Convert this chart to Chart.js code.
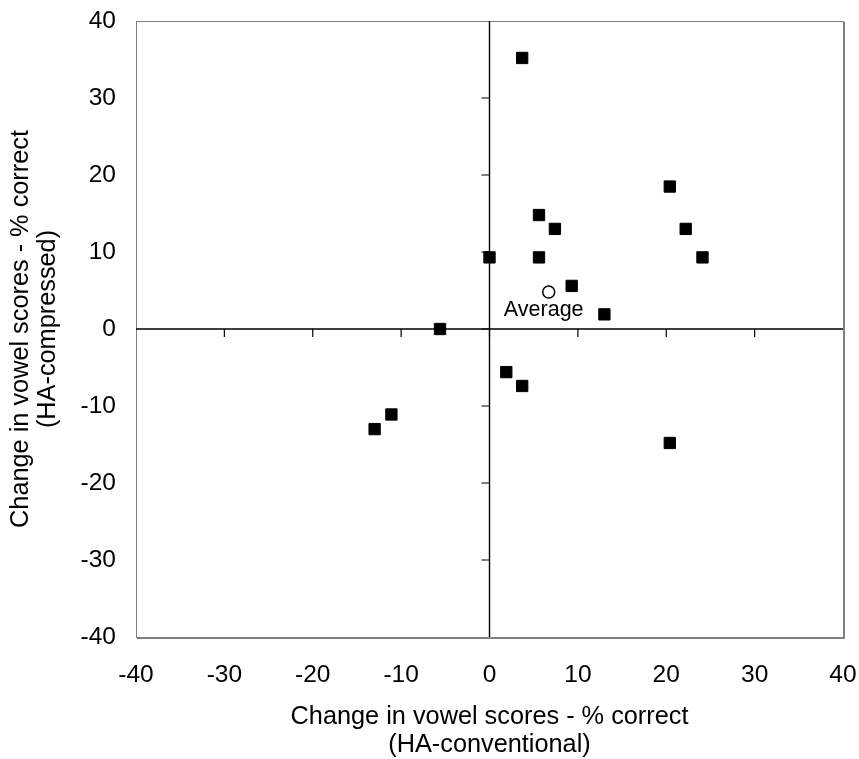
<!DOCTYPE html>
<html>
<head>
<meta charset="utf-8">
<script src="https://cdn.jsdelivr.net/npm/chart.js@4.4.1/dist/chart.umd.min.js"></script>
<style>
  html, body { margin: 0; padding: 0; background: #fff; }
  #wrap { width: 859px; height: 759px; }
</style>
</head>
<body>
<div id="wrap"><canvas id="scatter"></canvas></div>
<script>
// change in vowel scores, HA-conventional (x) vs HA-compressed (y)
const subjectX = [3.7, 20.4, 5.6, 7.4, 22.2, 0, 5.6, 24.1, 9.3, 13.0, -5.6, 1.9, 3.7, -11.1, -13.0, 20.4];
const subjectY = [35.2, 18.5, 14.8, 13.0, 13.0, 9.3, 9.3, 9.3, 5.6, 1.9, 0, -5.6, -7.4, -11.1, -13.0, -14.8];
const averageX = [6.7];
const averageY = [4.8];
const averageLabel = 'Average';

const axisMin = -40;
const axisMax = 40;
const axisStep = 10;

const xTitle = ['Change in vowel scores - % correct', '(HA-conventional)'];
const yTitle = ['Change in vowel scores - % correct', '(HA-compressed)'];

Chart.defaults.font.family = '"Liberation Sans", Arial, sans-serif';
Chart.defaults.color = '#000';

const toPoints = (xs, ys) => xs.map((x, i) => ({ x: x, y: ys[i] }));

// gray frame, axes through the origin with their tick marks, and the average label
const quadrantAxes = {
  id: 'quadrantAxes',
  beforeDatasetsDraw(chart) {
    const { ctx, chartArea: a, scales: { x, y } } = chart;
    const x0 = x.getPixelForValue(0);
    const y0 = y.getPixelForValue(0);
    ctx.save();

    ctx.strokeStyle = '#808080';
    ctx.lineWidth = 1;
    ctx.strokeRect(a.left + 0.5, a.top + 0.5, a.right - a.left, a.bottom - a.top);
    ctx.beginPath();
    ctx.moveTo(a.right + 1.5, a.top + 1);
    ctx.lineTo(a.right + 1.5, a.bottom + 1.5);
    ctx.lineTo(a.left + 1, a.bottom + 1.5);
    ctx.stroke();

    ctx.strokeStyle = '#000';
    ctx.lineWidth = 1.4;
    ctx.beginPath();
    ctx.moveTo(a.left, y0);
    ctx.lineTo(a.right, y0);
    ctx.moveTo(x0, a.top);
    ctx.lineTo(x0, a.bottom);
    ctx.stroke();

    ctx.lineWidth = 1.2;
    ctx.beginPath();
    for (let v = axisMin + axisStep; v < axisMax; v += axisStep) {
      const px = x.getPixelForValue(v);
      ctx.moveTo(px, y0);
      ctx.lineTo(px, y0 + 8);
      const py = y.getPixelForValue(v);
      ctx.moveTo(x0, py);
      ctx.lineTo(x0 - 8, py);
    }
    ctx.stroke();
    ctx.restore();
  },
  afterDatasetsDraw(chart) {
    const { ctx, scales: { x, y } } = chart;
    const px = x.getPixelForValue(averageX[0]);
    const py = y.getPixelForValue(averageY[0]);
    ctx.save();
    ctx.font = '21.5px "Liberation Sans", Arial, sans-serif';
    ctx.fillStyle = '#000';
    ctx.textAlign = 'center';
    ctx.textBaseline = 'middle';
    ctx.fillText(averageLabel, px - 5, py + 18);
    ctx.restore();
  }
};

new Chart(document.getElementById('scatter'), {
  type: 'scatter',
  data: {
    datasets: [
      {
        label: 'Subjects',
        data: toPoints(subjectX, subjectY),
        pointStyle: 'rect',
        pointRadius: 8,
        pointHoverRadius: 8,
        backgroundColor: '#000',
        borderColor: '#000',
        borderWidth: 1
      },
      {
        label: averageLabel,
        data: toPoints(averageX, averageY),
        pointStyle: 'circle',
        pointRadius: 6,
        pointHoverRadius: 6,
        backgroundColor: '#fff',
        borderColor: '#000',
        borderWidth: 1.5
      }
    ]
  },
  options: {
    responsive: true,
    maintainAspectRatio: false,
    animation: false,
    events: [],
    layout: { padding: { left: 0, top: 21, right: 16, bottom: 0 } },
    plugins: {
      legend: { display: false },
      tooltip: { enabled: false }
    },
    scales: {
      x: {
        type: 'linear',
        min: axisMin,
        max: axisMax,
        grid: { display: false, drawTicks: false },
        border: { display: false },
        ticks: { stepSize: axisStep, padding: 24, font: { size: 24.5 }, color: '#000' },
        title: {
          display: true,
          text: xTitle,
          color: '#000',
          font: { size: 25.3, lineHeight: 1.1 },
          padding: { top: 0, bottom: 0 }
        },
        afterFit: (scale) => {
          scale.height = 122;
          scale.paddingLeft = 0;
          scale.paddingRight = 0;
        }
      },
      y: {
        type: 'linear',
        min: axisMin,
        max: axisMax,
        grid: { display: false, drawTicks: false },
        border: { display: false },
        ticks: { stepSize: axisStep, padding: 20, font: { size: 24.5 }, color: '#000' },
        title: {
          display: true,
          text: yTitle,
          color: '#000',
          font: { size: 25.3, lineHeight: 1.05 },
          padding: { top: 8, bottom: 0 }
        },
        afterFit: (scale) => {
          scale.width = 136;
          scale.paddingTop = 0;
          scale.paddingBottom = 0;
        }
      }
    }
  },
  plugins: [quadrantAxes]
});
</script>
</body>
</html>
